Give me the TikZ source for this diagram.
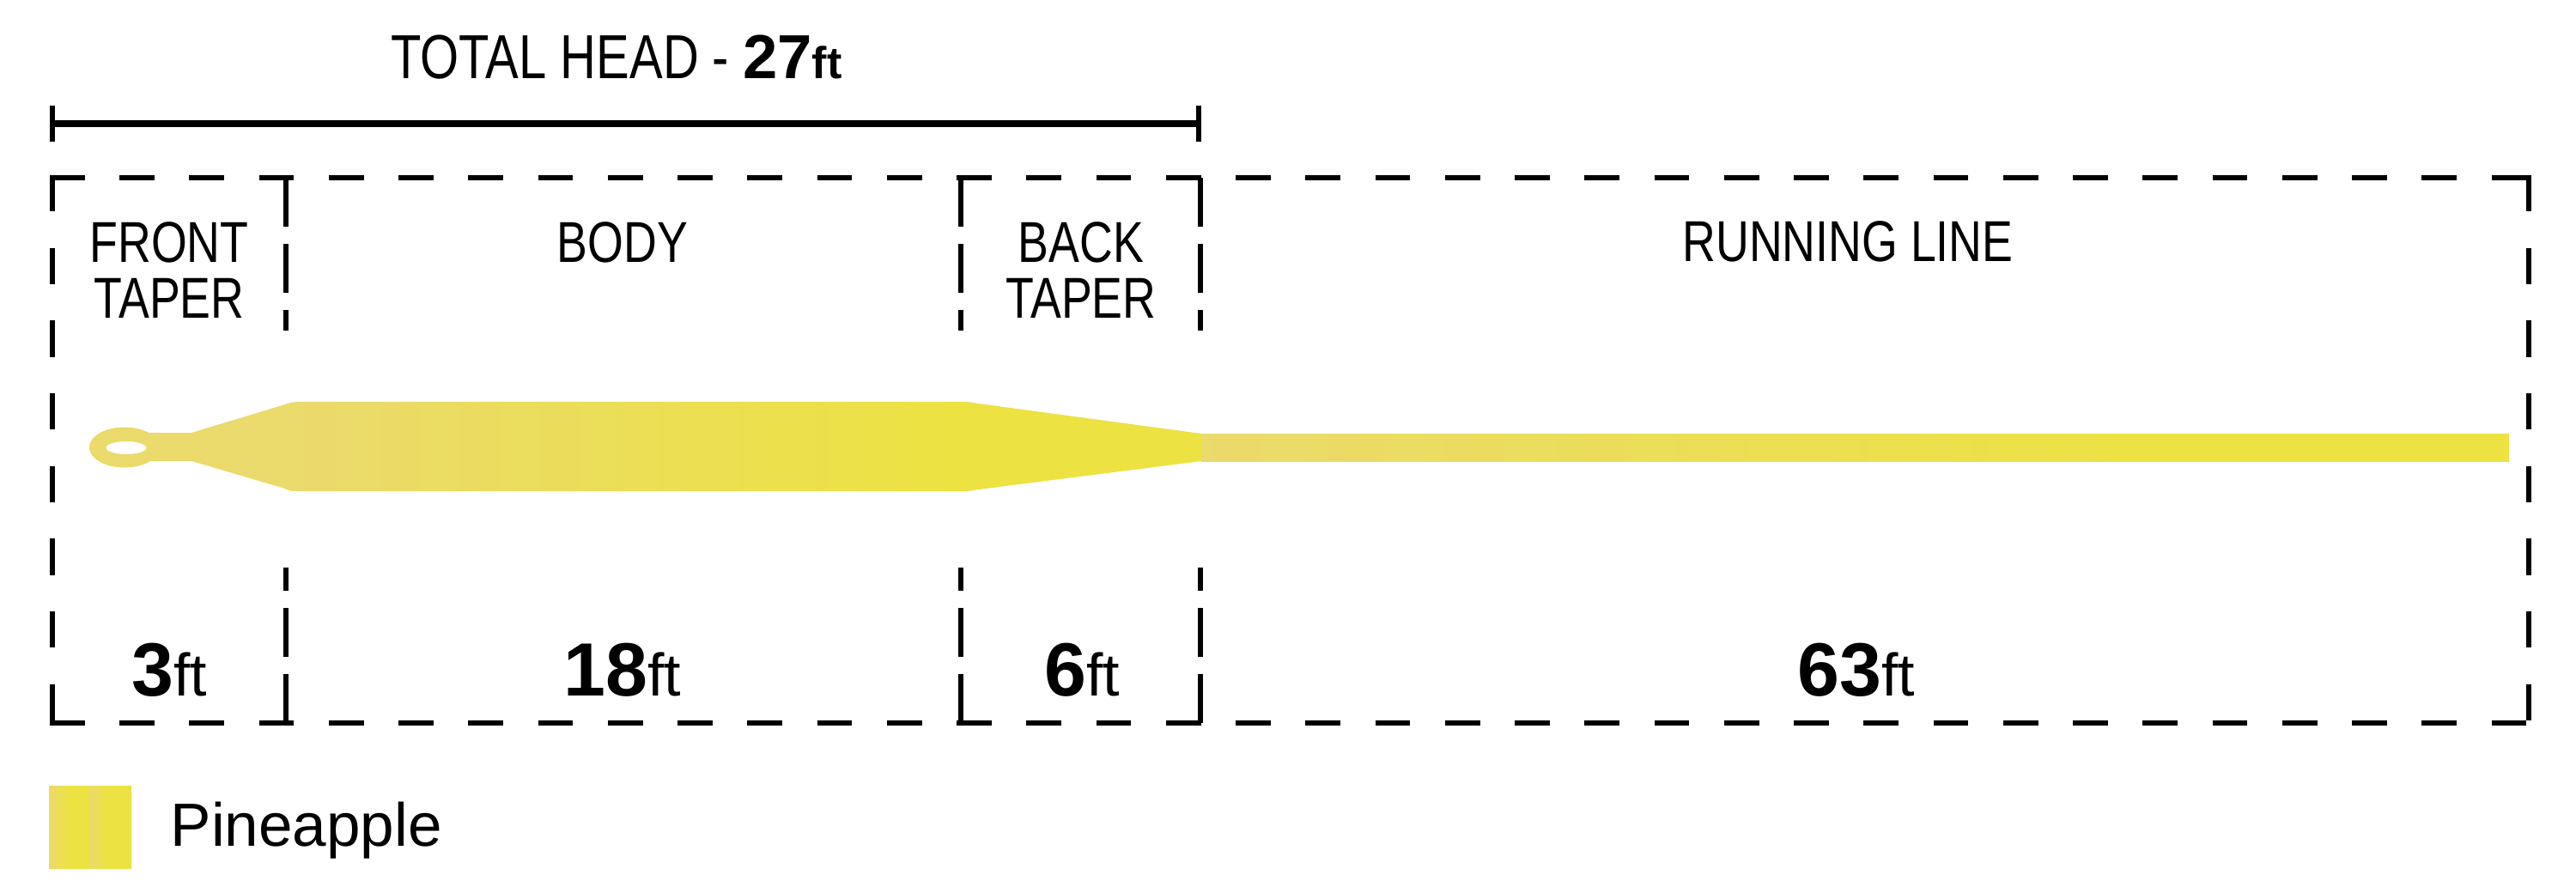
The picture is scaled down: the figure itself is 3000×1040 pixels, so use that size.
\documentclass[tikz,border=0pt]{standalone}
\usepackage{fontspec}
\setmainfont{Liberation Sans}
\newfontfamily\condf{Liberation Sans}[FakeStretch=0.8]
\definecolor{pale}{HTML}{EBDA6C}
\definecolor{bright}{HTML}{ECE242}
\pgfdeclarehorizontalshading{headshade}{100bp}{color(0bp)=(pale); color(32bp)=(pale); color(63bp)=(bright); color(100bp)=(bright)}
\pgfdeclarehorizontalshading{runshade}{100bp}{color(0bp)=(pale); color(25bp)=(pale); color(62bp)=(bright); color(100bp)=(bright)}
\pgfdeclarehorizontalshading{legshade}{100bp}{color(0bp)=(pale); color(25bp)=(pale); color(37bp)=(bright); color(49.5bp)=(bright); color(50bp)=(pale); color(60bp)=(bright); color(100bp)=(bright)}
\tikzset{
  boxline/.style={line width=0.065cm, dash pattern=on 0.406cm off 0.406cm},
  sideline/.style={line width=0.065cm, dash pattern=on 0.423cm off 0.423cm},
  divline/.style={line width=0.065cm, dash pattern=on 0.57cm off 0.2cm},
  lab/.style={font={\condf\fontsize{19.1}{23}\selectfont}, anchor=base, inner sep=0pt},
  numlab/.style={anchor=base, inner sep=0pt},
}
\newcommand{\numft}[1]{{\fontsize{25}{30}\selectfont\bfseries #1}{\fontsize{19.9}{24}\selectfont ft}}
\begin{document}
\begin{tikzpicture}[x=0.01cm, y=-0.01cm]
\useasboundingbox (0,0) rectangle (3000,1040);

% total head bar
\draw[line width=0.08cm] (61,144) -- (1396,144);
\draw[line width=0.06cm] (61,123) -- (61,165);
\draw[line width=0.06cm] (1396,123) -- (1396,165);
\node[anchor=base, inner sep=0pt] (title) at (718,92)
  {{\condf\fontsize{20.6}{24}\selectfont TOTAL HEAD - }{\fontsize{20.6}{24}\selectfont\bfseries 27}{\fontsize{14.8}{17}\selectfont\bfseries ft}};

% dashed outer box
\draw[boxline] (58,207) -- (2948,207);
\draw[boxline] (58,842) -- (2948,842);
\draw[sideline] (61,204) -- (61,845);
\draw[sideline] (2945,204) -- (2945,845);

% dividers
\foreach \xx in {333,1119,1398}{
  \draw[divline] (\xx,207) -- (\xx,385);
  \draw[divline] (\xx,842) -- (\xx,661);
}

% labels
\node[lab] (ft1) at (197,306) {FRONT};
\node[lab] (ft2) at (197,371) {TAPER};
\node[lab] (body) at (725,306) {BODY};
\node[lab] (bt1) at (1259,306) {BACK};
\node[lab] (bt2) at (1259,371) {TAPER};
\node[lab] (run) at (2152,305) {RUNNING LINE};

% lengths
\node[numlab] (n1) at (197,810) {\numft{3}};
\node[numlab] (n2) at (725,810) {\numft{18}};
\node[numlab] (n3) at (1260,810) {\numft{6}};
\node[numlab] (n4) at (2162,810) {\numft{63}};

% fly line
\fill[pale, even odd rule] (145,521) ellipse [x radius=0.41cm, y radius=0.235cm]
   (147,521.5) ellipse [x radius=0.235cm, y radius=0.075cm];
\shade[shading=headshade] (173,504) -- (223,504) -- (332,471) .. controls (338,469) .. (346,468)
   -- (1122,468) .. controls (1128,468) .. (1136,469.5) -- (1399,505) -- (1399,537)
   -- (1136,570.5) .. controls (1128,572) .. (1122,572) -- (346,572)
   .. controls (338,572) .. (332,569) -- (223,537) -- (173,537) -- cycle;
\shade[shading=runshade] (1399,505) rectangle (2922,537);

% legend
\shade[shading=legshade] (57,915) rectangle (153,1011);
\node[anchor=base west, inner sep=0pt] (leg) at (198,985) {\fontsize{20.2}{24}\selectfont Pineapple};
\end{tikzpicture}
\end{document}
